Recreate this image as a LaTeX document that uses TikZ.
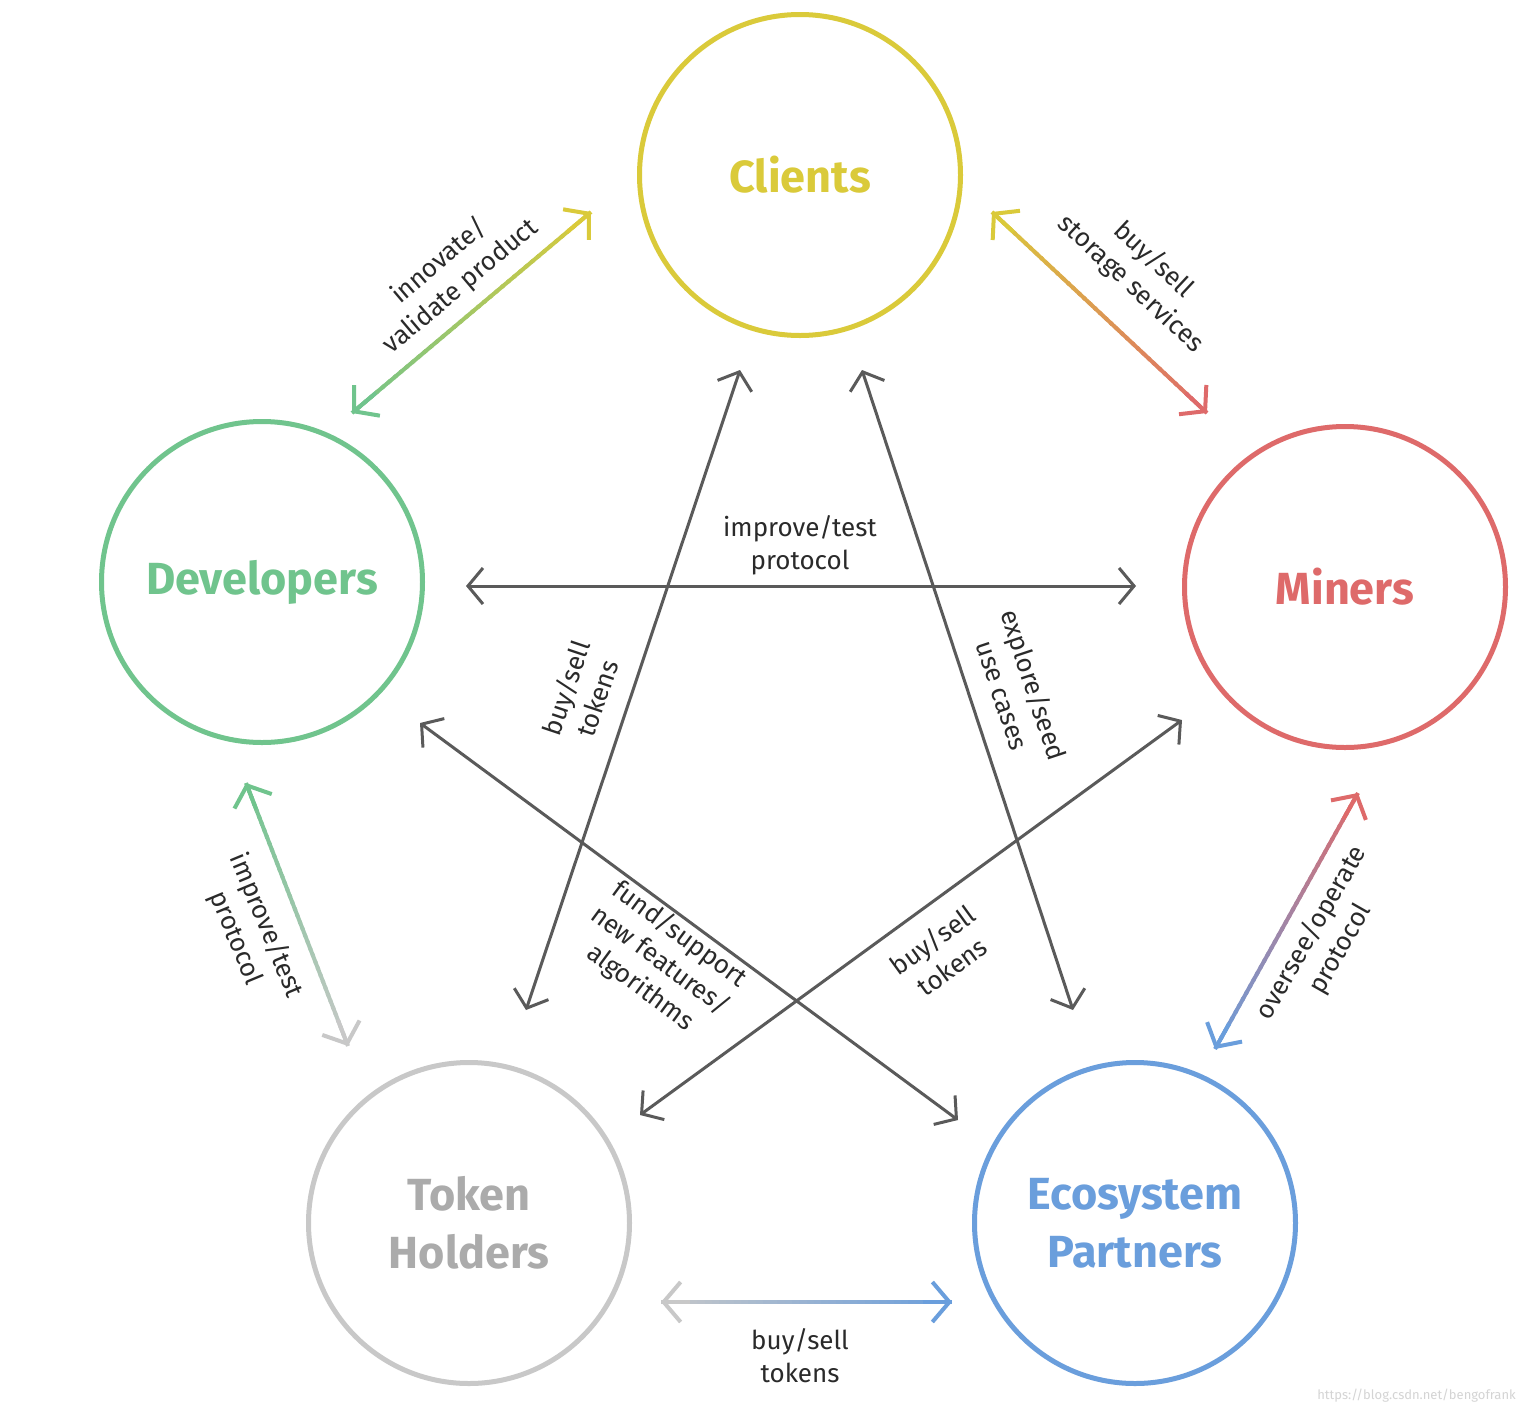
\documentclass[tikz,border=0pt]{standalone}
\usepackage{fontspec}
\setmainfont{Fira Sans}
\usetikzlibrary{arrows.meta,calc}

\definecolor{cliY}{HTML}{DACA3A}
\definecolor{devG}{HTML}{70C48D}
\definecolor{minR}{HTML}{DE6A6A}
\definecolor{tokG}{HTML}{C8C8C8}
\definecolor{tokT}{HTML}{ABABAB}
\definecolor{ecoB}{HTML}{6A9EDC}
\definecolor{linkG}{HTML}{5A5A5A}
\definecolor{txtK}{HTML}{2A2A2A}
\definecolor{markG}{HTML}{D4D4D4}

\tikzset{
  actor/.style={circle, draw=#1, line width=5pt, minimum size=321pt, inner sep=0pt,
    text=#1, align=center, font=\fontsize{45}{58}\selectfont\bfseries},
  lbl/.style={font=\fontsize{26}{33}\selectfont, text=txtK, align=center, inner sep=0pt},
  link/.style={draw=linkG, line width=3pt,
    {Straight Barb[length=15pt,width=36pt]}-{Straight Barb[length=15pt,width=36pt]}},
  gradseg/.style={line width=4pt, line cap=butt},
  gradtip/.style={line width=4pt, -{Straight Barb[length=17pt,width=40pt]}},
}

% double-headed connector whose colour fades from #3 (at #1) to #4 (at #2)
\newcommand\gradarrow[4]{%
  \foreach \i in {0,...,39}{%
    \pgfmathsetmacro\ta{\i/40}%
    \pgfmathsetmacro\tb{min(1,(\i+1.4)/40)}%
    \pgfmathtruncatemacro\mx{100-2.5*(\i+0.5)}%
    \draw[gradseg, draw=#3!\mx!#4] ($(#1)!\ta!(#2)$) -- ($(#1)!\tb!(#2)$);
  }%
  \draw[gradtip, draw=#4] ($(#1)!0.9!(#2)$) -- (#2);
  \draw[gradtip, draw=#3] ($(#2)!0.9!(#1)$) -- (#1);
}

\begin{document}
\begin{tikzpicture}[x=1pt, y=-1pt]
\useasboundingbox[fill=white] (0,0) rectangle (1524,1414);

% the five groups
\node[actor=cliY] (cli) at (800,175) {Clients};
\node[actor=devG] (dev) at (262,582) {Developers};
\node[actor=minR] (min) at (1345,587) {\raisebox{-7pt}{Miners}};
\node[actor=tokG, text=tokT] (tok) at (469,1223) {Token\\Holders};
\node[actor=ecoB] (eco) at (1135,1223) {Ecosystem\\Partners};

% connector end points
\coordinate (dc-d) at (352,413);   \coordinate (dc-c) at (591,212);
\coordinate (cm-c) at (992,212);   \coordinate (cm-m) at (1207,413);
\coordinate (dt-d) at (246,783);   \coordinate (dt-t) at (348,1046);
\coordinate (me-m) at (1358,793);  \coordinate (me-e) at (1215,1049);
\coordinate (te-t) at (661,1302);  \coordinate (te-e) at (952,1302);
\coordinate (dm-d) at (466,586);   \coordinate (dm-m) at (1136,586);
\coordinate (ct-c) at (740,370);   \coordinate (ct-t) at (526,1010);
\coordinate (ce-c) at (862,370);   \coordinate (ce-e) at (1073,1010);
\coordinate (de-d) at (420,723);   \coordinate (de-e) at (958,1120);
\coordinate (mt-m) at (1182,720);  \coordinate (mt-t) at (640,1115);

% outer ring of connectors
\gradarrow{dc-d}{dc-c}{devG}{cliY}
\gradarrow{cm-c}{cm-m}{cliY}{minR}
\gradarrow{dt-d}{dt-t}{devG}{tokG}
\gradarrow{me-m}{me-e}{minR}{ecoB}
\gradarrow{te-t}{te-e}{tokG}{ecoB}

% inner star of connectors
\draw[link] (dm-d) -- (dm-m);
\draw[link] (ct-c) -- (ct-t);
\draw[link] (ce-c) -- (ce-e);
\draw[link] (de-d) -- (de-e);
\draw[link] (mt-m) -- (mt-t);

% labels
\node[lbl, rotate=40.2] (l-dc) at (450,274) {innovate/\\validate product};
\node[lbl, rotate=-43] (l-cm) at (1142,272) {buy/sell\\storage services};
\node[lbl, rotate=-67.5] (l-dt) at (251,932) {improve/test\\protocol};
\node[lbl, rotate=60.3] (l-me) at (1326,941) {oversee/operate\\protocol};
\node[lbl] (l-te) at (800,1356) {buy/sell\\tokens};
\node[lbl] (l-dm) at (800,545) {improve/test\\protocol};
\node[lbl, rotate=71.4] (l-ct) at (581,693) {buy/sell\\tokens};
\node[lbl, rotate=-71.6] (l-ce) at (1019,690) {explore/seed\\use cases};
\node[lbl, rotate=-36.4] (l-de) at (660,961) {fund/support\\new features/\\algorithms};
\node[lbl, rotate=36] (l-mt) at (942,953) {buy/sell\\tokens};

\node[anchor=east, text=markG, font=\fontsize{13}{15}\selectfont, inner sep=0pt] (mark)
  at (1516,1396) {https://blog.csdn.net/bengofrank};
\end{tikzpicture}
\end{document}
